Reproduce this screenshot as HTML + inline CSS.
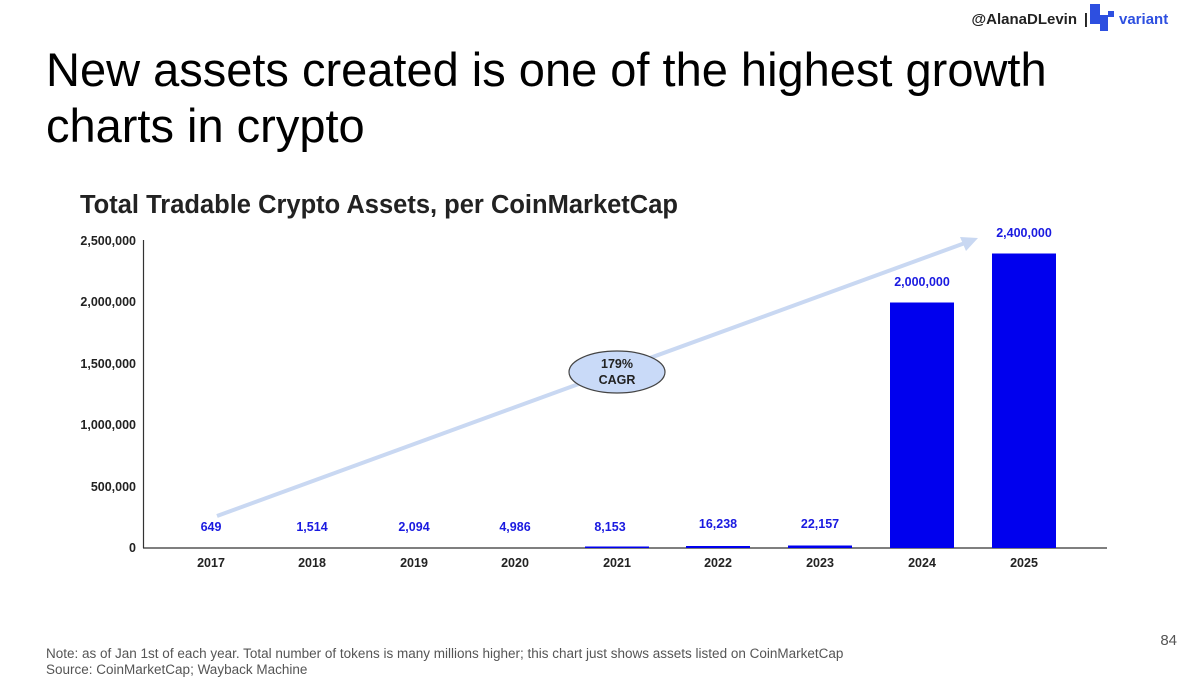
<!DOCTYPE html>
<html><head><meta charset="utf-8"><style>
body{margin:0;width:1200px;height:677px;background:#fff;overflow:hidden;font-family:"Liberation Sans",Arial,sans-serif}
</style></head><body>
<svg width="1200" height="677" viewBox="0 0 1200 677" xmlns="http://www.w3.org/2000/svg" font-family="Liberation Sans, Arial, sans-serif">
<text x="1077" y="24" font-size="15" font-weight="bold" text-anchor="end" fill="#222">@AlanaDLevin</text>
<text x="1086" y="24" font-size="15" font-weight="bold" text-anchor="middle" fill="#222">|</text>
<g fill="#2d4fe0">
<rect x="1090" y="4" width="10" height="11"/><rect x="1090" y="15" width="10" height="9"/><rect x="1100" y="15" width="8" height="8"/><rect x="1100" y="23" width="8" height="8"/><rect x="1108" y="11" width="6" height="6"/>
</g>
<text x="1119" y="24" font-size="15" font-weight="bold" fill="#2d4fe0">variant</text>
<text x="46" y="86" font-size="47" fill="#000">New assets created is one of the highest growth</text>
<text x="46" y="142" font-size="47" fill="#000">charts in crypto</text>
<text x="80" y="213" font-size="25.5" font-weight="bold" fill="#222">Total Tradable Crypto Assets, per CoinMarketCap</text>
<g font-size="12.5" font-weight="bold" fill="#222" text-anchor="end">
<text x="136" y="552">0</text><text x="136" y="491">500,000</text><text x="136" y="429">1,000,000</text><text x="136" y="368">1,500,000</text><text x="136" y="306">2,000,000</text><text x="136" y="245">2,500,000</text>
</g>
<line x1="143.5" y1="240" x2="143.5" y2="548" stroke="#333" stroke-width="1.2"/>
<line x1="143" y1="548" x2="1107" y2="548" stroke="#333" stroke-width="1.2"/>
<g fill="#0000ee">
<rect x="585" y="546.5" width="64" height="1.5"/>
<rect x="686" y="546" width="64" height="2"/>
<rect x="788" y="545.5" width="64" height="2.5"/>
<rect x="890" y="302.5" width="64" height="245.5"/>
<rect x="992" y="253.5" width="64" height="294.5"/>
</g>
<g font-size="12.5" font-weight="bold" fill="#222" text-anchor="middle">
<text x="211" y="567">2017</text><text x="312" y="567">2018</text><text x="414" y="567">2019</text><text x="515" y="567">2020</text><text x="617" y="567">2021</text><text x="718" y="567">2022</text><text x="820" y="567">2023</text><text x="922" y="567">2024</text><text x="1024" y="567">2025</text>
</g>
<g font-size="12.5" font-weight="bold" fill="#1a1ae0" text-anchor="middle">
<text x="211" y="531">649</text><text x="312" y="531">1,514</text><text x="414" y="531">2,094</text><text x="515" y="531">4,986</text><text x="610" y="531">8,153</text><text x="718" y="528">16,238</text><text x="820" y="528">22,157</text><text x="922" y="286">2,000,000</text><text x="1024" y="237">2,400,000</text>
</g>
<line x1="217" y1="516" x2="965" y2="243" stroke="#c9d8f2" stroke-width="4"/>
<polygon points="978,238 960,237 966,251" fill="#c9d8f2"/>
<ellipse cx="617" cy="372" rx="48" ry="21" fill="#c9daf8" stroke="#444" stroke-width="1.2"/>
<text x="617" y="368" font-size="12.5" font-weight="bold" text-anchor="middle" fill="#222">179%</text>
<text x="617" y="384" font-size="12.5" font-weight="bold" text-anchor="middle" fill="#222">CAGR</text>
<text x="1177" y="645" font-size="15" text-anchor="end" fill="#555">84</text>
<text x="46" y="658" font-size="13.5" fill="#555">Note: as of Jan 1st of each year. Total number of tokens is many millions higher; this chart just shows assets listed on CoinMarketCap</text>
<text x="46" y="674" font-size="13.5" fill="#555">Source: CoinMarketCap; Wayback Machine</text>
</svg>
</body></html>
